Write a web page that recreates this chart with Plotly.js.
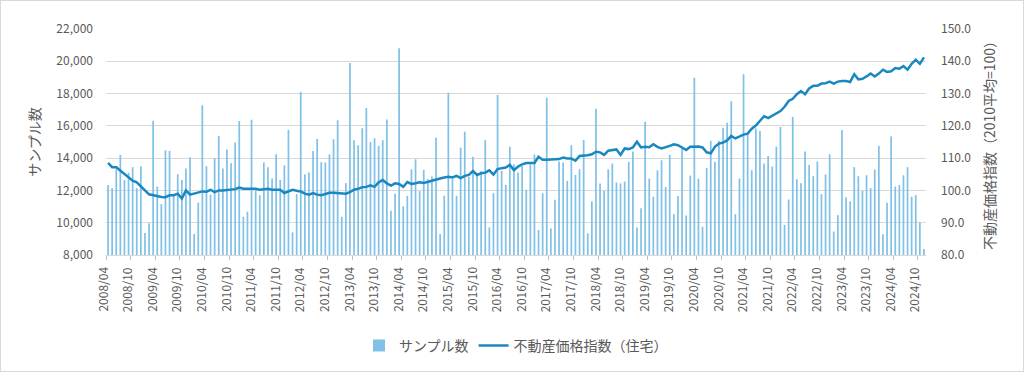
<!DOCTYPE html>
<html>
<head>
<meta charset="utf-8">
<script src="https://cdn.plot.ly/plotly-3.0.1.min.js"></script>
<style>
  html, body { margin: 0; padding: 0; background: #fff; }
  #wrap { position: relative; width: 1024px; height: 372px; }
  #chart { width: 1024px; height: 372px; }
  #frame { position: absolute; left: 0; top: 0; width: 1024px; height: 372px; box-sizing: border-box; border: 1px solid #d9d9d9; pointer-events: none; }
</style>
</head>
<body>
<div id="wrap"><div id="chart"></div><div id="frame"></div></div>
<script>
// Months 2008/04 .. 2024/11 (200 categories)
const startYear = 2008, startMonth = 4, monthCount = 200;
const months = [];
for (let k = 0; k < monthCount; k++) {
  const m = startMonth - 1 + k;
  const y = startYear + Math.floor(m / 12);
  const mm = (m % 12) + 1;
  months.push(y + '/' + (mm < 10 ? '0' + mm : mm));
}

// サンプル数 (left axis)
const sampleCount = [
  12330, 12140, 13300, 14200, 12650, 13100, 13440, 12140, 13500, 9360,
  9960, 16320, 12240, 11150, 14490, 14450, 11700, 13000, 12650, 13360,
  14060, 9300, 11250, 17270, 13500, 11730, 14000, 15375, 13360, 14530,
  13690, 14960, 16300, 10370, 10680, 16380, 11980, 11700, 13730, 13440,
  12740, 14240, 12650, 13560, 15750, 9400, 11770, 18090, 12990, 13110,
  14450, 15190, 13750, 13730, 14240, 15170, 16340, 10370, 12450, 19900,
  15110, 14800, 15850, 17100, 15000, 15230, 14760, 15110, 16400, 10740,
  11800, 20810, 11010, 11670, 13310, 13930, 11960, 13270, 12700, 12860,
  15270, 9300, 11670, 18050, 12700, 11670, 14650, 15640, 12840, 14080,
  13000, 13200, 15130, 9710, 11830, 17910, 13210, 12350, 14700, 13620,
  13110, 13520, 12040, 13620, 14220, 9550, 11830, 17740, 9650, 11420,
  13790, 13730, 12590, 14800, 12960, 13310, 15130, 9340, 11320, 17060,
  12430, 11980, 13310, 13670, 12490, 12430, 12550, 13770, 14410, 9710,
  10900, 16260, 12740, 11610, 13250, 13870, 12220, 14200, 10530, 11650,
  14590, 10450, 12920, 18980, 12720, 9750, 13400, 15070, 13770, 15070,
  15890, 16200, 17520, 10530, 12740, 19190, 15520, 13250, 15830, 15680,
  13670, 14140, 13480, 14720, 15930, 9870, 11440, 16550, 12700, 12450,
  14410, 13580, 12880, 13790, 11770, 12990, 14240, 9460, 10470, 15750,
  11580, 11320, 13440, 12880, 11980, 12940, 12140, 13300, 14760, 9280,
  11230, 15350, 12240, 12330, 12940, 13440, 11610, 11710, 10020, 8370
];

// 不動産価格指数（住宅） (right axis, 2010 avg = 100)
const priceIndex = [
  108.5, 107.2, 107.2, 106.1, 105.3, 104.2, 103.0, 102.5, 101.1, 100.0,
  98.8, 98.5, 98.2, 98.0, 97.9, 98.5, 98.5, 99.0, 97.5, 100.0,
  98.7, 99.0, 99.5, 99.7, 99.6, 100.2, 99.5, 100.0, 100.0, 100.1,
  100.2, 100.4, 100.9, 100.5, 100.5, 100.5, 100.5, 100.2, 100.3, 100.5,
  100.2, 100.2, 100.2, 99.2, 99.7, 100.2, 99.9, 99.7, 99.0, 98.7,
  99.2, 98.7, 98.5, 99.0, 99.3, 99.3, 99.2, 98.9, 99.0, 99.5,
  100.2, 100.5, 101.0, 101.1, 101.6, 101.1, 102.5, 103.2, 102.2, 101.5,
  102.2, 102.0, 101.1, 102.6, 102.0, 102.2, 102.5, 102.3, 102.7, 103.1,
  103.4, 103.7, 104.0, 104.2, 104.0, 104.5, 103.8, 104.5, 104.8, 106.0,
  104.8, 105.3, 105.5, 106.2, 104.9, 106.6, 106.9, 107.1, 107.9, 106.3,
  107.4, 108.1, 108.5, 108.4, 108.5, 110.4, 109.5, 109.5, 109.5, 109.5,
  109.7, 110.2, 109.9, 109.9, 109.2, 110.7, 110.7, 110.9, 111.2, 112.0,
  111.8, 111.0, 112.3, 112.5, 112.7, 111.0, 113.0, 112.8, 113.3, 115.1,
  113.3, 113.5, 113.4, 114.3, 113.5, 113.0, 113.3, 113.8, 114.3, 114.0,
  113.3, 112.5, 113.5, 113.6, 113.6, 113.3, 111.8, 111.5, 113.5, 114.5,
  114.8, 115.5, 116.9, 116.1, 116.8, 117.3, 117.6, 119.1, 120.1, 121.5,
  123.0, 122.4, 123.1, 123.8, 124.6, 125.9, 127.7, 128.4, 129.8, 130.8,
  129.8, 131.6, 132.4, 132.4, 133.1, 133.2, 133.7, 133.1, 133.7, 133.9,
  133.9, 133.6, 136.0, 134.4, 134.6, 135.3, 136.2, 135.3, 136.2, 137.4,
  136.7, 136.9, 137.9, 137.7, 138.5, 137.4, 139.2, 140.5, 139.2, 141.2
];

const tickLabels = [
  '2008/04','2008/10','2009/04','2009/10','2010/04','2010/10','2011/04','2011/10',
  '2012/04','2012/10','2013/04','2013/10','2014/04','2014/10','2015/04','2015/10',
  '2016/04','2016/10','2017/04','2017/10','2018/04','2018/10','2019/04','2019/10',
  '2020/04','2020/10','2021/04','2021/10','2022/04','2022/10','2023/04','2023/10',
  '2024/04','2024/10'
];

const xIdx = months.map((_, i) => i);
const labelIdx = tickLabels.map(t => months.indexOf(t));

const FONT = '"Noto Sans CJK JP", "Noto Sans", sans-serif';
const GRAY = '#595959';

const traces = [
  {
    type: 'bar', name: 'サンプル数', x: xIdx, y: sampleCount,
    marker: { color: '#80c1e8', line: { width: 0 } },
    xaxis: 'x', yaxis: 'y', hoverinfo: 'skip'
  },
  {
    type: 'scatter', mode: 'lines', name: '不動産価格指数（住宅）', x: xIdx, y: priceIndex,
    line: { color: '#1a88c0', width: 2.5 },
    xaxis: 'x', yaxis: 'y2', hoverinfo: 'skip'
  }
];

// rotated category labels, placed just left of each boundary tick (as in the original)
const labelAnnotations = tickLabels.map((t, k) => ({
  text: t, x: labelIdx[k], xref: 'x', xshift: -6, y: 0, yref: 'paper',
  xanchor: 'center', yanchor: 'top', yshift: -10, textangle: -90,
  showarrow: false, font: { family: FONT, size: 12, color: GRAY }
}));

const layout = {
  width: 1024, height: 372,
  margin: { l: 106, r: 98, t: 29, b: 116 },
  paper_bgcolor: '#ffffff', plot_bgcolor: '#ffffff',
  font: { family: FONT, color: GRAY, size: 12 },
  bargap: 0.58,
  showlegend: true,
  legend: {
    orientation: 'h', x: 0.5, xanchor: 'center', y: -0.396, yanchor: 'middle',
    font: { family: FONT, size: 14, color: GRAY }, traceorder: 'normal'
  },
  annotations: labelAnnotations,
  xaxis: {
    type: 'linear', range: [-0.5, monthCount - 0.5],
    tickmode: 'array', tickvals: labelIdx.map(i => i - 0.5), ticktext: tickLabels,
    showticklabels: false, ticks: 'outside', ticklen: 4, tickcolor: '#bfbfbf', tickwidth: 1,
    showline: true, linecolor: '#d9d9d9', linewidth: 1,
    showgrid: false, zeroline: false, fixedrange: true
  },
  yaxis: {
    range: [8000, 22000], tickmode: 'linear', tick0: 8000, dtick: 2000,
    tickformat: ',d', ticks: '', ticklabelstandoff: 12,
    tickfont: { family: FONT, size: 12, color: GRAY },
    gridcolor: '#d9d9d9', gridwidth: 1, showline: false, zeroline: false,
    title: { text: 'サンプル数', font: { family: FONT, size: 14, color: GRAY }, standoff: 12 },
    fixedrange: true
  },
  yaxis2: {
    overlaying: 'y', side: 'right', anchor: 'x',
    range: [80, 150], tickmode: 'linear', tick0: 80, dtick: 10,
    tickformat: '.1f', ticks: '', ticklabelstandoff: 14,
    tickfont: { family: FONT, size: 12, color: GRAY },
    showgrid: false, showline: false, zeroline: false,
    title: { text: '不動産価格指数（2010平均=100）', font: { family: FONT, size: 14, color: GRAY }, standoff: 14 },
    fixedrange: true
  }
};

Plotly.newPlot('chart', traces, layout, { displayModeBar: false, staticPlot: true });
</script>
</body>
</html>
